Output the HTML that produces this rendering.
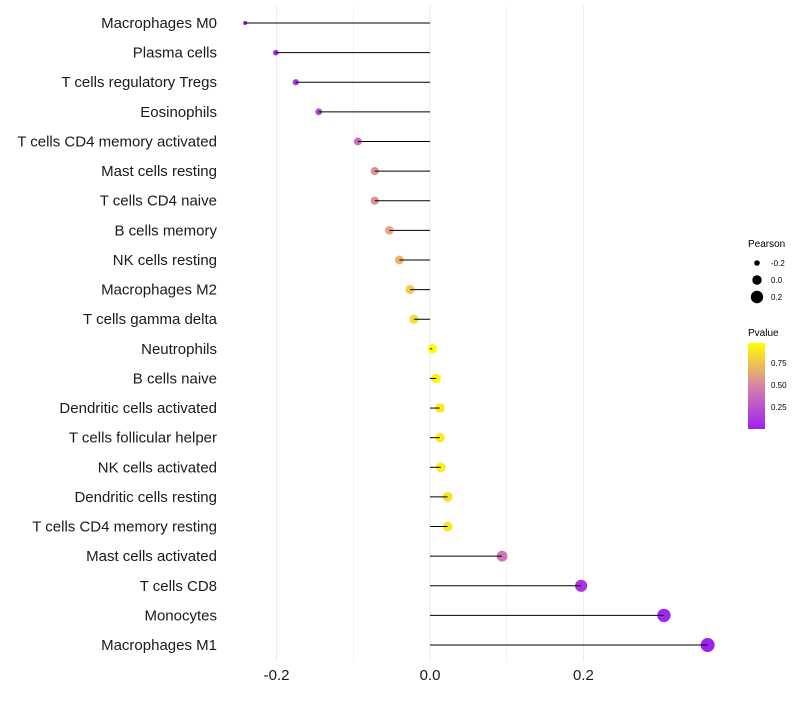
<!DOCTYPE html>
<html><head><meta charset="utf-8"><style>body{margin:0;background:#fff}svg{font-family:"Liberation Sans",sans-serif}</style></head>
<body>
<svg id="c" width="800" height="700">
<defs><linearGradient id="pg" x1="0" y1="1" x2="0" y2="0"><stop offset="0" stop-color="#a020f0"/><stop offset="0.5" stop-color="#d683a8"/><stop offset="1" stop-color="#ffff00"/></linearGradient></defs>
<g id="grid"></g>
<g id="marks"></g>
<g id="axes"></g>
<g font-size="10">
<text x="748" y="247">Pearson</text>
<circle cx="757" cy="263" r="2.8" fill="#000"/>
<text x="771" y="266" font-size="8">-0.2</text>
<circle cx="757" cy="280" r="4.7" fill="#000"/>
<text x="771" y="283" font-size="8">0.0</text>
<circle cx="757" cy="297" r="6.2" fill="#000"/>
<text x="771" y="300" font-size="8">0.2</text>
<text x="748" y="336">Pvalue</text>
<rect x="748" y="343" width="17" height="86" fill="url(#pg)"/>
<text x="771" y="366" font-size="8">0.75</text>
<text x="771" y="388" font-size="8">0.50</text>
<text x="771" y="410" font-size="8">0.25</text>
</g>
</svg>
<script>
const cells=["Macrophages M0","Plasma cells","T cells regulatory  Tregs","Eosinophils","T cells CD4 memory activated","Mast cells resting","T cells CD4 naive","B cells memory","NK cells resting","Macrophages M2","T cells gamma delta","Neutrophils","B cells naive","Dendritic cells activated","T cells follicular helper","NK cells activated","Dendritic cells resting","T cells CD4 memory resting","Mast cells activated","T cells CD8","Monocytes","Macrophages M1"];
const pearson=[-0.241,-0.201,-0.175,-0.145,-0.094,-0.072,-0.072,-0.053,-0.040,-0.026,-0.021,0.003,0.008,0.013,0.013,0.014,0.023,0.023,0.094,0.197,0.305,0.362];
const pvalue=[0.03,0.05,0.1,0.22,0.4,0.6,0.6,0.72,0.78,0.85,0.9,0.99,0.97,0.95,0.95,0.95,0.92,0.92,0.45,0.12,0.05,0.02];
const xTicks=[-0.2,0.0,0.2];
const xTickLabels=["-0.2","0.0","0.2"];
const gridVals=[-0.2,-0.1,0,0.1,0.2];
const NS="http://www.w3.org/2000/svg";
const X=v=>430+v*767, Y=i=>23+i*29.62;
function mk(t,a,p){const e=document.createElementNS(NS,t);for(const k in a)e.setAttribute(k,a[k]);p.appendChild(e);return e;}
function lerp(a,b,t){return a.map((v,i)=>Math.round(v+(b[i]-v)*t));}
function col(p){const t=Math.max(0,Math.min(1,(p-0.02)/0.98));const c=t<0.5?lerp([160,32,240],[214,131,168],t/0.5):(t<0.75?lerp([214,131,168],[238,170,120],(t-0.5)/0.25):lerp([238,170,120],[255,255,0],(t-0.75)/0.25));return `rgb(${c})`;}
function rad(v){const a=(v+0.26)/0.62;return Math.sqrt(1.8*1.8+a*(7*7-1.8*1.8));}
const g=document.getElementById('grid'),m=document.getElementById('marks'),ax=document.getElementById('axes');
gridVals.forEach(v=>{const l=mk('line',{x1:X(v),x2:X(v),y1:5,y2:662,stroke:'#ebebeb','stroke-width':Math.abs(Math.round(v*10))%2==0?1:0.6},g);

});
cells.forEach((c,i)=>{
const p=mk('circle',{cx:X(pearson[i]),cy:Y(i),r:rad(pearson[i]),fill:col(pvalue[i])},m);


const s=mk('line',{x1:X(0),x2:X(pearson[i]),y1:Y(i),y2:Y(i),stroke:'#000','stroke-width':1},m);


const t=mk('text',{x:217,y:Y(i)+5,'text-anchor':'end','font-size':15,fill:'#1a1a1a'},ax);t.textContent=c;


});
xTicks.forEach((v,i)=>{const t=mk('text',{x:X(v),y:680,'text-anchor':'middle','font-size':15,fill:'#1a1a1a'},ax);t.textContent=xTickLabels[i];

});
</script>
</body></html>
